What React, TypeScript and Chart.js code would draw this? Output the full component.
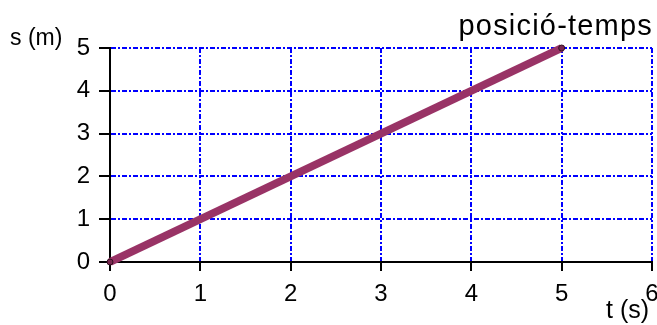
import React, { useEffect, useRef } from "react";
import { Chart, registerables } from "chart.js";

Chart.register(...registerables);

const timeValues = [0, 5];
const positionValues = [0, 5];
const xTicks = [0, 1, 2, 3, 4, 5, 6];
const yTicks = [0, 1, 2, 3, 4, 5];
const titleText = "posició-temps";
const yAxisLabel = "s (m)";
const xAxisLabel = "t (s)";

const FONT = "'Liberation Sans', Arial, sans-serif";

const textPlugin = {
  id: "texts",
  afterDraw(chart: any) {
    const ctx = chart.ctx;
    ctx.save();
    ctx.fillStyle = "#000";
    ctx.textBaseline = "alphabetic";
    ctx.font = `29px ${FONT}`;
    (ctx as any).letterSpacing = "1.2px";
    ctx.textAlign = "right";
    ctx.fillText(titleText, 653, 35);
    (ctx as any).letterSpacing = "0px";
    ctx.textAlign = "left";
    ctx.font = `23px ${FONT}`;
    ctx.fillText(yAxisLabel, 10, 45);
    ctx.font = `25px ${FONT}`;
    ctx.fillText(xAxisLabel, 606, 318);
    ctx.restore();
  },
};

export default function App() {
  const ref = useRef<HTMLCanvasElement>(null);
  useEffect(() => {
    document.body.style.margin = "0";
    const canvas = ref.current!;
    const chart = new Chart(canvas, {
      type: "scatter",
      data: {
        datasets: [
          {
            data: timeValues.map((t, i) => ({ x: t, y: positionValues[i] })),
            showLine: true,
            borderColor: "#993366",
            borderWidth: 8,
            pointRadius: 3,
            pointBorderWidth: 1,
            pointBorderColor: "#331122",
            pointBackgroundColor: "#7a2850",
            clip: false as any,
          },
        ],
      },
      options: {
        animation: false,
        responsive: false,
        devicePixelRatio: 1,
        layout: { padding: { top: 48, right: 5, left: 0, bottom: 0 } },
        plugins: { legend: { display: false }, tooltip: { enabled: false } },
        scales: {
          x: {
            type: "linear",
            min: 0,
            max: 6,
            afterBuildTicks: (s: any) => {
              s.ticks = xTicks.map((v) => ({ value: v }));
            },
            afterFit: (s: any) => {
              s.height = 63;
              s.paddingLeft = 0;
              s.paddingRight = 0;
            },
            ticks: {
              color: "#000",
              font: { family: FONT, size: 24 },
              padding: 9,
              maxRotation: 0,
              autoSkip: false,
            },
            grid: {
              color: "#0000ff",
              lineWidth: 2,
              tickColor: "#000",
              tickWidth: 2,
              tickLength: 9,
            },
            border: { color: "#000", width: 2, dash: [5, 2, 2, 2] },
          },
          y: {
            type: "linear",
            min: 0,
            max: 5,
            afterBuildTicks: (s: any) => {
              s.ticks = yTicks.map((v) => ({ value: v }));
            },
            afterFit: (s: any) => {
              s.width = 110;
              s.paddingTop = 0;
              s.paddingBottom = 0;
            },
            ticks: {
              color: "#000",
              font: { family: FONT, size: 24 },
              padding: 9,
              autoSkip: false,
            },
            grid: {
              color: "#0000ff",
              lineWidth: 2,
              tickColor: "#000",
              tickWidth: 2,
              tickLength: 11,
            },
            border: { color: "#000", width: 2, dash: [5, 2, 2, 2] },
          },
        },
      },
      plugins: [textPlugin],
    });
    return () => chart.destroy();
  }, []);
  return (
    <canvas
      ref={ref}
      width={657}
      height={325}
      style={{ display: "block", width: 657, height: 325 }}
    />
  );
}
